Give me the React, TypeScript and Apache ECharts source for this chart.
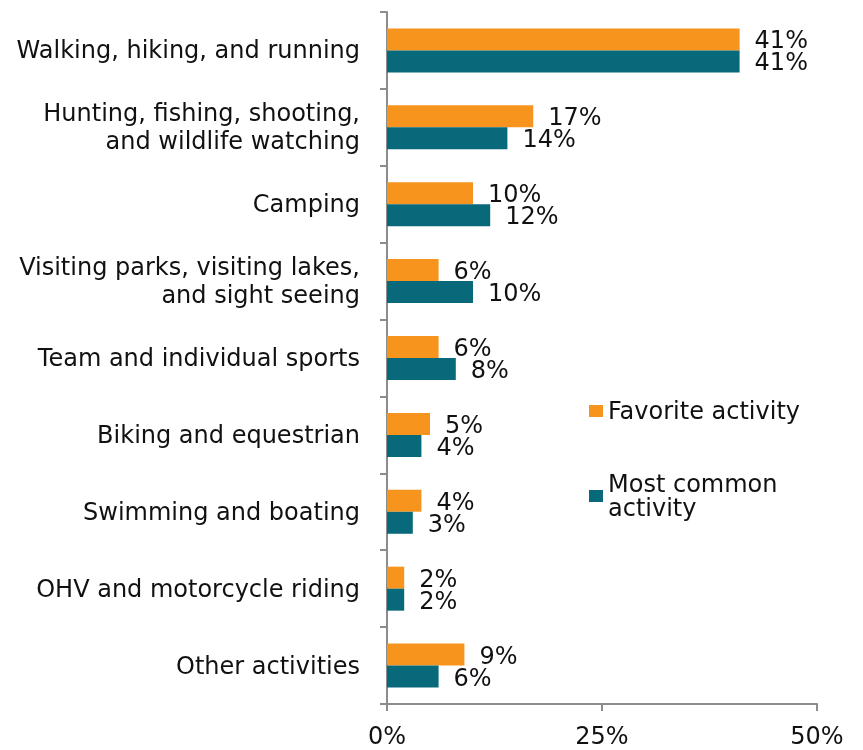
import React, { useEffect, useRef } from "react";
import * as echarts from "echarts";

const categories = [
  "Walking, hiking, and running",
  "Hunting, fishing, shooting,\nand wildlife watching",
  "Camping",
  "Visiting parks, visiting lakes,\nand sight seeing",
  "Team and individual sports",
  "Biking and equestrian",
  "Swimming and boating",
  "OHV and motorcycle riding",
  "Other activities",
];
const favorite = [41, 17, 10, 6, 6, 5, 4, 2, 9];
const mostCommon = [41, 14, 12, 10, 8, 4, 3, 2, 6];
const xTicks = { min: 0, max: 50, interval: 25 };

const FONT = "DejaVu Sans";
const FS = 24;
const TXT = "#111111";
const AXIS = "#8c8c8c";

export default function App() {
  const ref = useRef<HTMLDivElement>(null);
  useEffect(() => {
    if (!ref.current) return;
    const chart = echarts.init(ref.current, null, { renderer: "svg" });
    const label = {
      show: true,
      position: "right",
      distance: 15,
      offset: [0, 1],
      formatter: "{c}%",
      fontSize: FS,
      lineHeight: 21,
      fontFamily: FONT,
      color: TXT,
    };
    chart.setOption({
      animation: false,
      textStyle: { fontFamily: FONT },
      grid: { left: 387, right: 46, top: 12, bottom: 46, containLabel: false },
      legend: {
        orient: "vertical",
        left: 584,
        top: 394,
        itemWidth: 14,
        itemHeight: 12,
        itemGap: 37,
        itemStyle: { borderWidth: 0 },
        icon: "rect",
        textStyle: { fontSize: FS, fontFamily: FONT, color: TXT, lineHeight: 24 },
        formatter: (name: string) =>
          name === "Most common activity" ? "Most common\nactivity" : name,
        data: [
          { name: "Favorite activity" },
          {
            name: "Most common activity",
            textStyle: { padding: [24, 0, 0, 0] },
          },
        ],
      },
      xAxis: {
        type: "value",
        min: xTicks.min,
        max: xTicks.max,
        interval: xTicks.interval,
        axisLine: { show: true, lineStyle: { color: AXIS, width: 2 } },
        axisTick: { show: true, length: 7, lineStyle: { color: AXIS, width: 2 } },
        splitLine: { show: false },
        axisLabel: {
          formatter: "{value}%",
          fontSize: FS,
          lineHeight: 24,
          fontFamily: FONT,
          color: TXT,
          margin: 20,
        },
      },
      yAxis: {
        type: "category",
        inverse: true,
        data: categories,
        axisLine: { show: true, lineStyle: { color: AXIS, width: 2 } },
        axisTick: { show: true, length: 7, lineStyle: { color: AXIS, width: 2 } },
        axisLabel: {
          fontSize: FS,
          fontFamily: FONT,
          color: TXT,
          lineHeight: 28,
          margin: 27,
          align: "right",
        },
      },
      series: [
        {
          name: "Favorite activity",
          type: "bar",
          data: favorite,
          barWidth: 22,
          barGap: "0%",
          itemStyle: { color: "#F7941D" },
          label,
        },
        {
          name: "Most common activity",
          type: "bar",
          data: mostCommon,
          barWidth: 22,
          barGap: "0%",
          itemStyle: { color: "#08697A" },
          label,
        },
      ],
    });
    return () => chart.dispose();
  }, []);
  return (
    <div
      ref={ref}
      style={{ position: "fixed", left: 0, top: 0, width: 863, height: 750 }}
    />
  );
}
